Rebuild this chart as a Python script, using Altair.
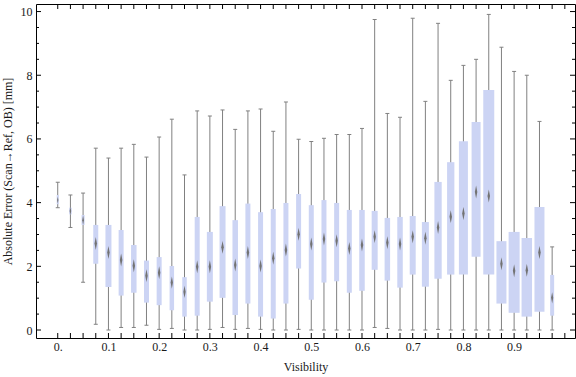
import altair as alt
import pandas as pd

# ---- data ----
visibility = [0.000, 0.025, 0.050, 0.075, 0.100, 0.125, 0.150, 0.175, 0.200, 0.225,
              0.250, 0.275, 0.300, 0.325, 0.350, 0.375, 0.400, 0.425, 0.450, 0.475,
              0.500, 0.525, 0.550, 0.575, 0.600, 0.625, 0.650, 0.675, 0.700, 0.725,
              0.750, 0.775, 0.800, 0.825, 0.850, 0.875, 0.900, 0.925, 0.950, 0.975]
whisker_low = [3.84, 3.22, 1.50, 0.18, 0.00, 0.08, 0.08, 0.15, 0.02, 0.05,
               0.00, 0.00, 0.02, 0.08, 0.02, 0.05, 0.02, 0.00, 0.00, 0.02,
               0.00, 0.00, 0.00, 0.00, 0.00, 0.08, 0.05, 0.00, 0.00, 0.00,
               0.02, 0.00, 0.00, 0.00, 0.00, 0.00, 0.00, 0.00, 0.00, 0.00]
q1 = [3.95, 3.63, 3.30, 2.08, 1.35, 1.08, 1.17, 0.86, 0.78, 0.62,
      0.42, 0.45, 0.89, 1.01, 0.47, 0.83, 0.42, 0.36, 0.83, 1.93,
      0.95, 1.49, 1.53, 1.17, 1.23, 1.89, 1.55, 1.33, 1.74, 1.36,
      1.61, 1.74, 1.74, 2.30, 1.74, 0.83, 0.54, 0.42, 0.57, 0.45]
median = [4.08, 3.74, 3.45, 2.72, 2.43, 2.20, 2.02, 1.70, 1.80, 1.49,
          1.20, 1.99, 1.99, 2.60, 2.04, 2.43, 2.01, 2.25, 2.51, 3.01,
          2.70, 2.86, 2.80, 2.56, 2.67, 2.93, 2.74, 2.70, 2.93, 2.88,
          3.22, 3.56, 3.66, 4.33, 4.21, 2.08, 1.86, 1.88, 2.43, 1.01]
q3 = [4.24, 3.84, 3.61, 3.30, 3.30, 3.14, 2.67, 2.18, 2.29, 2.01,
      1.66, 3.55, 3.08, 3.89, 3.45, 3.97, 3.70, 3.80, 3.99, 4.27,
      3.92, 4.08, 3.99, 3.77, 3.77, 3.74, 3.52, 3.55, 3.58, 3.39,
      4.65, 5.27, 5.93, 6.53, 7.54, 2.79, 3.08, 2.89, 3.86, 1.73]
whisker_high = [4.64, 4.24, 4.30, 5.71, 5.40, 5.71, 5.83, 5.43, 6.06, 6.62,
                4.87, 6.88, 6.72, 6.91, 6.30, 6.88, 6.94, 6.24, 7.16, 5.99,
                5.92, 6.02, 6.14, 6.14, 6.33, 9.75, 6.80, 6.68, 9.79, 7.18,
                9.63, 7.84, 8.31, 8.50, 9.91, 8.88, 8.12, 8.00, 6.55, 2.61]
# relative bin weight (drives box width)
weight = [2, 2.5, 3, 5, 6, 5, 5.5, 5, 5, 4.5,
          4.5, 5, 6, 6, 5.5, 5, 5, 5, 5, 5,
          5, 5, 5, 5, 5.5, 6, 5.5, 5.5, 6, 7,
          7.3, 7.3, 9, 9, 11, 10, 11, 10.5, 10, 4]

x_label_values = [0.0, 0.1, 0.2, 0.3, 0.4, 0.5, 0.6, 0.7, 0.8, 0.9]
y_label_values = [0, 2, 4, 6, 8, 10]

df = pd.DataFrame({
    "vis": visibility, "lo": whisker_low, "q1": q1, "med": median,
    "q3": q3, "hi": whisker_high, "w": weight,
})

# tick positions for the Mathematica-style frame
x_ticks = pd.DataFrame({"v": [round(k * 0.025, 3) for k in range(41)]})
y_major = pd.DataFrame({"v": y_label_values})
y_minor = pd.DataFrame({"v": [0.5 * k for k in range(1, 21) if k % 4 != 0]})

W, H = 539, 334
FONT = "Liberation Serif"
GRAY = "#808080"
BOX = "#CCD4F4"
TXT = "#1a1a1a"

xscale = alt.Scale(domain=[-0.033, 1.0102], nice=False, zero=False)
yscale = alt.Scale(domain=[-0.251, 10.237], nice=False, zero=False)

x_axis = alt.Axis(values=x_label_values, ticks=False, domain=False, grid=False,
                  labelExpr="datum.value == 0 ? '0.' : format(datum.value, '.1f')",
                  labelFont=FONT, labelFontSize=12, labelColor=TXT, labelPadding=3,
                  title="Visibility", titleFont=FONT, titleFontSize=12,
                  titleFontWeight="normal", titleColor=TXT, titlePadding=9)
y_axis = alt.Axis(values=y_label_values, ticks=False, domain=False, grid=False,
                  labelFont=FONT, labelFontSize=12, labelColor=TXT, labelPadding=4,
                  title="Absolute Error (Scan\u2192Ref, OB) [mm]", titleFont=FONT,
                  titleFontSize=12, titleFontWeight="normal", titleColor=TXT,
                  titlePadding=6)

base = alt.Chart(df)

whisk = base.mark_rule(color=GRAY, strokeWidth=1).encode(
    x=alt.X("vis:Q", scale=xscale, axis=x_axis),
    y=alt.Y("lo:Q", scale=yscale, axis=y_axis),
    y2="hi:Q",
)
cap_lo = base.mark_tick(orient="horizontal", size=4, thickness=1, color=GRAY, opacity=1).encode(
    x="vis:Q", y="lo:Q")
cap_hi = base.mark_tick(orient="horizontal", size=4, thickness=1, color=GRAY, opacity=1).encode(
    x="vis:Q", y="hi:Q")
boxes = base.mark_bar(color=BOX, opacity=1).encode(
    x="vis:Q", y="q1:Q", y2="q3:Q",
    size=alt.Size("w:Q", scale=None, legend=None),
)
diamond = base.mark_point(shape="M0,-1L0.19,0L0,1L-0.19,0Z", filled=True,
                          color="#737373", opacity=1, strokeWidth=0).encode(
    x="vis:Q", y="med:Q",
    size=alt.Size("w:Q", scale=alt.Scale(domain=[2, 5], range=[45, 169], clamp=True), legend=None),
)

def hticks(data, size, xpos):
    return alt.Chart(data).mark_tick(orient="horizontal", size=size, thickness=1,
                                     color="black", opacity=1).encode(
        y="v:Q", x=alt.value(xpos))

def vticks(data, size, ypos):
    return alt.Chart(data).mark_tick(orient="vertical", size=size, thickness=1,
                                     color="black", opacity=1).encode(
        x="v:Q", y=alt.value(ypos))

chart = alt.layer(
    whisk, cap_lo, cap_hi, boxes, diamond,
    hticks(y_major, 5, 2.5), hticks(y_major, 5, W - 2.5),
    hticks(y_minor, 3, 1.5), hticks(y_minor, 3, W - 1.5),
    vticks(x_ticks, 5, 2.5), vticks(x_ticks, 5, H - 2.5),
).properties(
    width=W, height=H,
    autosize=alt.AutoSizeParams(type="none"),
    padding={"left": 36, "top": 4, "right": 1, "bottom": 39},
    background="white",
).configure_view(stroke="black", strokeWidth=1)

chart.save("out.html", embed_options={"renderer": "svg", "actions": False})
